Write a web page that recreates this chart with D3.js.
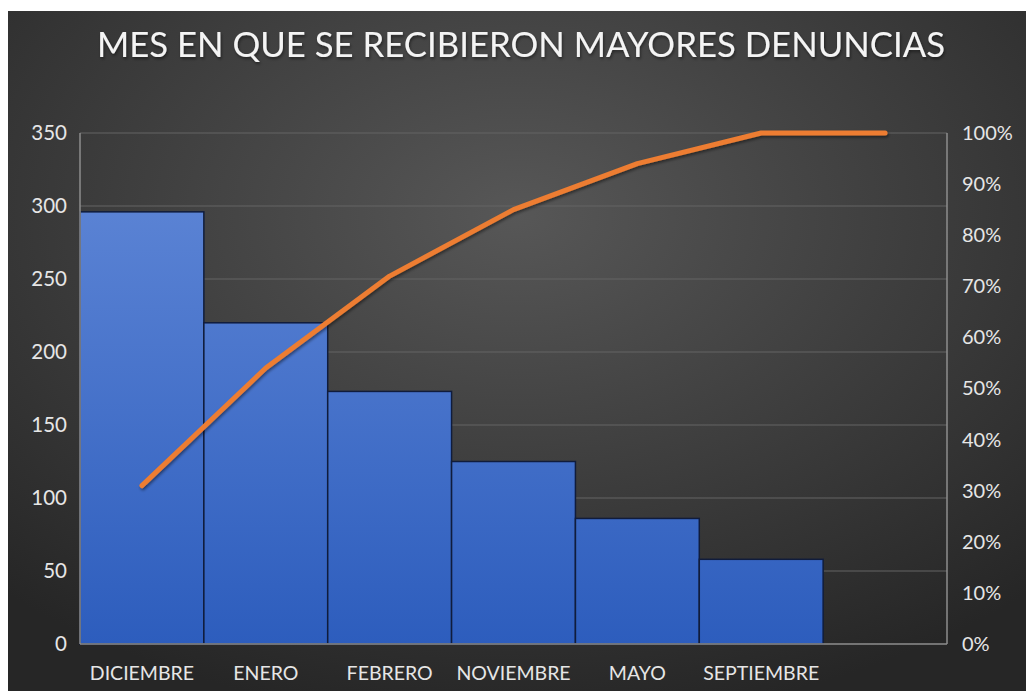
<!DOCTYPE html>
<html>
<head>
<meta charset="utf-8">
<script src="https://cdn.jsdelivr.net/npm/d3@7"></script>
<style>
  html, body { margin: 0; padding: 0; background: #fff; }
  svg { display: block; }
  text { font-family: Lato, "Open Sans", sans-serif; }
</style>
</head>
<body>
<svg id="svg"></svg>
<script>
// data
var categories = ["DICIEMBRE", "ENERO", "FEBRERO", "NOVIEMBRE", "MAYO", "SEPTIEMBRE", ""];
var counts = [296, 220, 173, 125, 86, 58, 0];
var cumulative = [0.31, 0.54, 0.72, 0.85, 0.94, 1.00, 1.00];
var leftTicks = [0, 50, 100, 150, 200, 250, 300, 350];
var rightTicks = [0, 0.1, 0.2, 0.3, 0.4, 0.5, 0.6, 0.7, 0.8, 0.9, 1.0];
var title = "MES EN QUE SE RECIBIERON MAYORES DENUNCIAS";

var width = 1026,
    height = 691;

var svg = d3.select("#svg")
    .attr("width", width)
    .attr("height", height);

var defs = svg.append("defs");

var bg = defs.append("radialGradient")
    .attr("id", "bg")
    .attr("cx", "50%").attr("cy", "30%").attr("r", "75%");
bg.append("stop").attr("offset", "0%").attr("stop-color", "#575757");
bg.append("stop").attr("offset", "100%").attr("stop-color", "#262626");

var plot = { left: 80, right: 947, top: 133, bottom: 644 };

var barGrad = defs.append("linearGradient")
    .attr("id", "barGrad")
    .attr("gradientUnits", "userSpaceOnUse")
    .attr("x1", 0).attr("x2", 0)
    .attr("y1", plot.top).attr("y2", plot.bottom);
barGrad.append("stop").attr("offset", "0%").attr("stop-color", "#6289d8");
barGrad.append("stop").attr("offset", "100%").attr("stop-color", "#2d5dbd");

var shadow = defs.append("filter").attr("id", "shadow")
    .attr("x", "-10%").attr("y", "-10%").attr("width", "120%").attr("height", "130%");
shadow.append("feDropShadow")
    .attr("dx", 1).attr("dy", 2).attr("stdDeviation", 1.5)
    .attr("flood-color", "#000").attr("flood-opacity", 0.45);

// chart background (white margin at top/left like the screenshot)
svg.append("rect")
    .attr("x", 8).attr("y", 11)
    .attr("width", width - 8).attr("height", height - 11)
    .attr("fill", "url(#bg)");

var x = d3.scaleBand()
    .domain(categories)
    .range([plot.left, plot.right])
    .padding(0);

var y = d3.scaleLinear()
    .domain([0, 350])
    .range([plot.bottom, plot.top]);

var y2 = d3.scaleLinear()
    .domain([0, 1])
    .range([plot.bottom, plot.top]);

// gridlines
svg.append("g")
    .selectAll("line")
    .data(leftTicks.slice(1))
    .enter().append("line")
    .attr("x1", plot.left).attr("x2", plot.right)
    .attr("y1", function(d) { return y(d); })
    .attr("y2", function(d) { return y(d); })
    .attr("stroke", "#646464")
    .attr("stroke-width", 1);

// bars
svg.append("g")
    .selectAll("rect")
    .data(counts)
    .enter().append("rect")
    .filter(function(d) { return d > 0; })
    .attr("x", function(d, i) { return x(categories[i]); })
    .attr("y", function(d) { return y(d); })
    .attr("width", x.bandwidth())
    .attr("height", function(d) { return y(0) - y(d); })
    .attr("fill", "url(#barGrad)")
    .attr("stroke", "#101c3c")
    .attr("stroke-width", 1.5);

// axis lines
var axisColor = "#8e8e8e";
svg.append("line")
    .attr("x1", plot.left).attr("x2", plot.left)
    .attr("y1", plot.top).attr("y2", plot.bottom)
    .attr("stroke", axisColor).attr("stroke-width", 1.5);
svg.append("line")
    .attr("x1", plot.right).attr("x2", plot.right)
    .attr("y1", plot.top).attr("y2", plot.bottom)
    .attr("stroke", axisColor).attr("stroke-width", 1.5);
svg.append("line")
    .attr("x1", plot.left).attr("x2", plot.right)
    .attr("y1", plot.bottom).attr("y2", plot.bottom)
    .attr("stroke", axisColor).attr("stroke-width", 1.5);

// left axis
var leftAxis = d3.axisLeft(y).tickValues(leftTicks).tickSize(0).tickPadding(13);
svg.append("g")
    .attr("transform", "translate(" + plot.left + ",0)")
    .call(leftAxis)
    .call(function(g) { g.select(".domain").remove(); })
    .selectAll("text")
    .attr("fill", "#e6e6e6")
    .style("font-size", "20.5px");

// right axis
var rightAxis = d3.axisRight(y2).tickValues(rightTicks).tickSize(0).tickPadding(15)
    .tickFormat(d3.format(".0%"));
svg.append("g")
    .attr("transform", "translate(" + plot.right + ",0)")
    .call(rightAxis)
    .call(function(g) { g.select(".domain").remove(); })
    .selectAll("text")
    .attr("fill", "#e6e6e6")
    .style("font-size", "20px");

// category axis
var bottomAxis = d3.axisBottom(x).tickSize(0).tickPadding(22);
svg.append("g")
    .attr("transform", "translate(0," + plot.bottom + ")")
    .call(bottomAxis)
    .call(function(g) { g.select(".domain").remove(); })
    .selectAll("text")
    .attr("fill", "#e6e6e6")
    .style("font-size", "19.5px");

svg.selectAll(".tick text").attr("font-family", null);

// cumulative line
var line = d3.line()
    .x(function(d, i) { return x(categories[i]) + x.bandwidth() / 2; })
    .y(function(d) { return y2(d); });

svg.append("path")
    .datum(cumulative)
    .attr("d", line)
    .attr("fill", "none")
    .attr("stroke", "#ed7d31")
    .attr("stroke-width", 5)
    .attr("stroke-linecap", "round")
    .attr("stroke-linejoin", "round")
    .attr("filter", "url(#shadow)");

// title
svg.append("text")
    .attr("x", 521)
    .attr("y", 57)
    .attr("text-anchor", "middle")
    .attr("fill", "#f4f4f4")
    .attr("textLength", 848)
    .attr("lengthAdjust", "spacingAndGlyphs")
    .style("font-size", "35px")
    .attr("filter", "url(#shadow)")
    .text(title);
</script>
</body>
</html>
